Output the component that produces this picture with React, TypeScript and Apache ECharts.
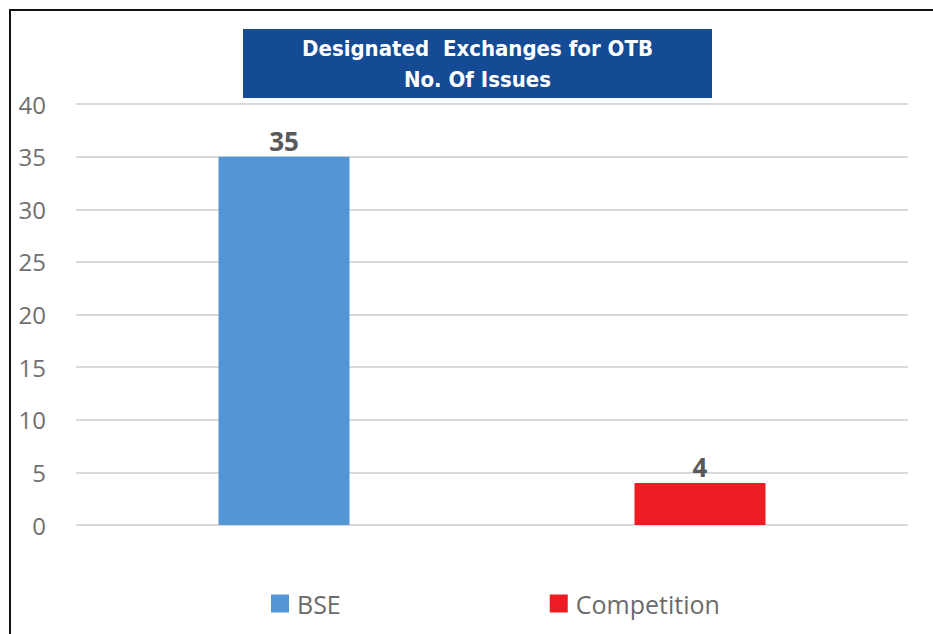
import React, { useEffect, useRef } from "react";
import * as echarts from "echarts";

const categories = ["BSE", "Competition"];
const values = [35, 4];
const colors = ["#5296D3", "#ED1C24"];
const titleLines = ["Designated  Exchanges for OTB", "No. Of Issues"];

export default function App() {
  const ref = useRef<HTMLDivElement>(null);
  useEffect(() => {
    document.body.style.margin = "0";
    const chart = echarts.init(ref.current!, null, { renderer: "svg" });
    chart.setOption({
      animation: false,
      backgroundColor: "#ffffff",
      grid: { left: 76, right: 25, top: 104, bottom: 109, containLabel: false },
      xAxis: {
        type: "category",
        data: categories,
        axisLine: { show: false },
        axisTick: { show: false },
        axisLabel: { show: false },
      },
      yAxis: {
        type: "value",
        min: 0,
        max: 40,
        interval: 5,
        axisLine: { show: false },
        axisTick: { show: false },
        axisLabel: {
          color: "#707070",
          fontSize: 24,
          fontFamily: "Open Sans",
          margin: 30,
        },
        splitLine: { lineStyle: { color: "#d9d9d9", width: 2 } },
      },
      legend: {
        top: 586,
        left: 266,
        itemGap: 209,
        itemWidth: 18,
        itemHeight: 18,
        icon: "rect",
        textStyle: { color: "#6b6b6b", fontSize: 25, fontFamily: "Open Sans", padding: [0, 0, 0, 3] },
        data: categories,
      },
      series: categories.map((c, i) => ({
        name: c,
        type: "bar",
        stack: "s",
        barWidth: 131,
        data: categories.map((_, j) => (j === i ? values[i] : null)),
        itemStyle: { color: colors[i] },
        label: {
          show: true,
          position: "top",
          color: "#595959",
          fontSize: 26,
          fontWeight: "bold",
          fontFamily: "Open Sans",
          distance: 3,
          formatter: (p: any) => (p.value == null ? "" : String(p.value)),
        },
      })),
      graphic: [
        {
          type: "line",
          shape: { x1: 10, y1: 10, x2: 933, y2: 10 },
          style: { stroke: "#111111", lineWidth: 2 },
        },
        {
          type: "line",
          shape: { x1: 10, y1: 9, x2: 10, y2: 634 },
          style: { stroke: "#111111", lineWidth: 2 },
        },
        {
          type: "rect",
          shape: { x: 243, y: 29, width: 469, height: 69 },
          style: { fill: "#144B94" },
        },
        {
          type: "text",
          x: 477.5,
          y: 63.5,
          style: {
            text: titleLines.join("\n"),
            fill: "#ffffff",
            fontSize: 22,
            fontWeight: "bold",
            fontFamily: "'DejaVu Sans Condensed', Roboto, sans-serif",
            lineHeight: 31,
            align: "center",
            verticalAlign: "middle",
          },
        },
      ],
    });
    return () => chart.dispose();
  }, []);
  return <div ref={ref} style={{ width: 933, height: 634 }} />;
}
